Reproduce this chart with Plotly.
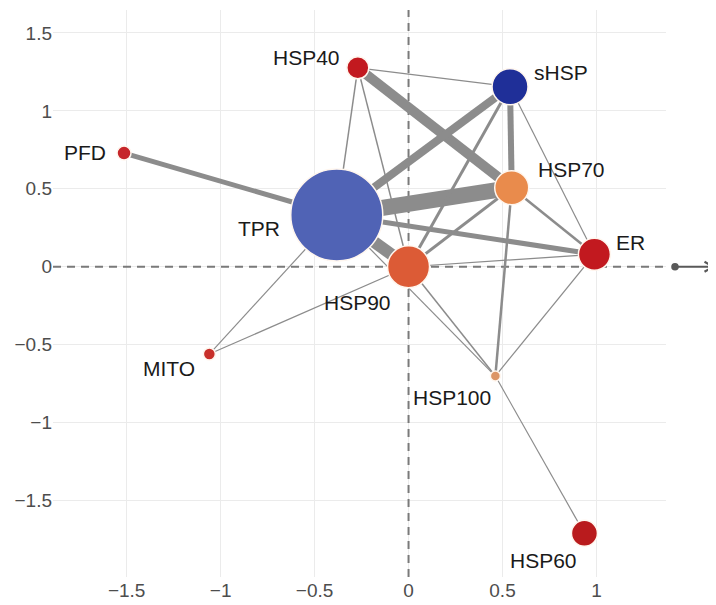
import plotly.graph_objects as go

# ---- data ----
nodes = ["HSP40", "PFD", "TPR", "sHSP", "HSP70", "ER", "HSP90", "MITO", "HSP100", "HSP60"]
node_x = [-0.270, -1.514, -0.382, 0.540, 0.549, 0.989, 0.000, -1.060, 0.462, 0.936]
node_y = [1.276, 0.729, 0.332, 1.155, 0.507, 0.080, 0.000, -0.560, -0.701, -1.710]
node_weight = [22, 14, 92, 36, 34, 32, 42, 12, 10, 26]

edge_src = ["PFD", "TPR", "HSP40", "HSP40", "HSP40", "TPR", "TPR", "TPR", "TPR", "TPR",
            "TPR", "sHSP", "sHSP", "sHSP", "HSP70", "HSP70", "HSP70", "HSP90", "HSP90",
            "HSP90", "ER", "HSP100"]
edge_dst = ["TPR", "HSP40", "sHSP", "HSP70", "HSP90", "sHSP", "HSP70", "ER", "HSP90", "MITO",
            "HSP100", "HSP70", "HSP90", "ER", "HSP90", "ER", "HSP100", "ER", "MITO",
            "HSP100", "HSP100", "HSP60"]
edge_weight = [5, 1.5, 1.2, 10, 1.5, 8, 16, 5, 12, 1.2,
               1.2, 6, 3, 1.2, 3, 2.5, 2.5, 1.2, 1.2,
               1.5, 1.2, 1.2]

x_ticks = [-1.5, -1, -0.5, 0, 0.5, 1]
y_ticks = [-1.5, -1, -0.5, 0, 0.5, 1, 1.5]
x_range = [-1.892, 1.370]
y_range = [-1.99, 1.647]

# ---- styles ----
node_color = {
    "HSP40": "#c2191f", "PFD": "#c6262a", "TPR": "#5063b5", "sHSP": "#1f2f98",
    "HSP70": "#e98b4c", "ER": "#c2191f", "HSP90": "#dc5b36", "MITO": "#c8302b",
    "HSP100": "#dc9566", "HSP60": "#b91b1d",
}
# label placement: (xanchor, xshift px, yshift px)
label_pos = {
    "HSP40": ("right", -16, 10), "PFD": ("right", -16, 1), "TPR": ("right", -55, -13),
    "sHSP": ("left", 22, 14), "HSP70": ("left", 24, 18), "ER": ("left", 20, 12),
    "HSP90": ("right", -16, -36), "MITO": ("right", -12, -14), "HSP100": ("right", -2, -21),
    "HSP60": ("right", -5, -27),
}
FONT = "Liberation Sans, Arial, sans-serif"
AXIS_COL = "#7a7a7a"

def fmt(v):
    return ("−" if v < 0 else "") + f"{abs(v):g}"

idx = {n: i for i, n in enumerate(nodes)}
fig = go.Figure()

# dashed zero lines (drawn as traces so they sit above the grid but under the network)
fig.add_trace(go.Scatter(x=[0, 0], y=y_range, mode="lines", hoverinfo="skip", showlegend=False,
                         line=dict(color=AXIS_COL, width=2, dash="8px,6px")))
fig.add_trace(go.Scatter(x=x_range, y=[0, 0], mode="lines", hoverinfo="skip", showlegend=False,
                         line=dict(color=AXIS_COL, width=2, dash="8px,6px")))

for s, d, w in zip(edge_src, edge_dst, edge_weight):
    i, j = idx[s], idx[d]
    fig.add_trace(go.Scatter(
        x=[node_x[i], node_x[j]], y=[node_y[i], node_y[j]], mode="lines",
        line=dict(color="#8c8c8c", width=w), hoverinfo="skip", showlegend=False))

fig.add_trace(go.Scatter(
    x=node_x, y=node_y, mode="markers", text=nodes, hoverinfo="text",
    marker=dict(size=node_weight, color=[node_color[n] for n in nodes],
                line=dict(color="#fff6ee", width=1.5), opacity=1),
    showlegend=False))

for n, x, y in zip(nodes, node_x, node_y):
    xa, xs, ys = label_pos[n]
    fig.add_annotation(x=x, y=y, text=n, showarrow=False, xanchor=xa, yanchor="middle",
                       xshift=xs, yshift=ys, font=dict(family=FONT, size=21, color="#1a1a1a"))

# arrow at the right end of the horizontal zero line
fig.add_shape(type="line", xref="paper", yref="y", x0=1.0147, x1=1.0775, y0=0, y1=0,
              line=dict(color="#595959", width=2.2))
fig.add_shape(type="circle", xref="paper", yref="y", xsizemode="pixel", ysizemode="pixel",
              xanchor=1.0147, yanchor=0, x0=-3.8, x1=3.8, y0=-3.8, y1=3.8,
              line=dict(color="#595959", width=0), fillcolor="#595959")
fig.add_shape(type="path", xref="paper", yref="y", xsizemode="pixel", ysizemode="pixel",
              xanchor=1.0775, yanchor=0, path="M -9 5 L 0 0 L -9 -5",
              line=dict(color="#595959", width=2.2))

fig.update_xaxes(range=x_range, tickvals=x_ticks, ticktext=[fmt(v) for v in x_ticks],
                 showgrid=True, gridcolor="#ebebeb", gridwidth=1, zeroline=False, showline=False,
                 ticks="", ticklabelstandoff=0, automargin=False,
                 tickfont=dict(family=FONT, size=19, color="#4d4d4d"))
fig.update_yaxes(range=y_range, tickvals=y_ticks, ticktext=[fmt(v) for v in y_ticks],
                 showgrid=True, gridcolor="#ebebeb", gridwidth=1, zeroline=False, showline=False,
                 ticks="", automargin=False,
                 tickfont=dict(family=FONT, size=19, color="#4d4d4d"))

# page body adds an 8px offset, so the figure is sized to fill the rest of the window
fig.update_layout(width=708, height=597, margin=dict(l=45, r=50, t=2, b=28),
                  plot_bgcolor="white", paper_bgcolor="white", showlegend=False)

fig.write_html("out.html")
